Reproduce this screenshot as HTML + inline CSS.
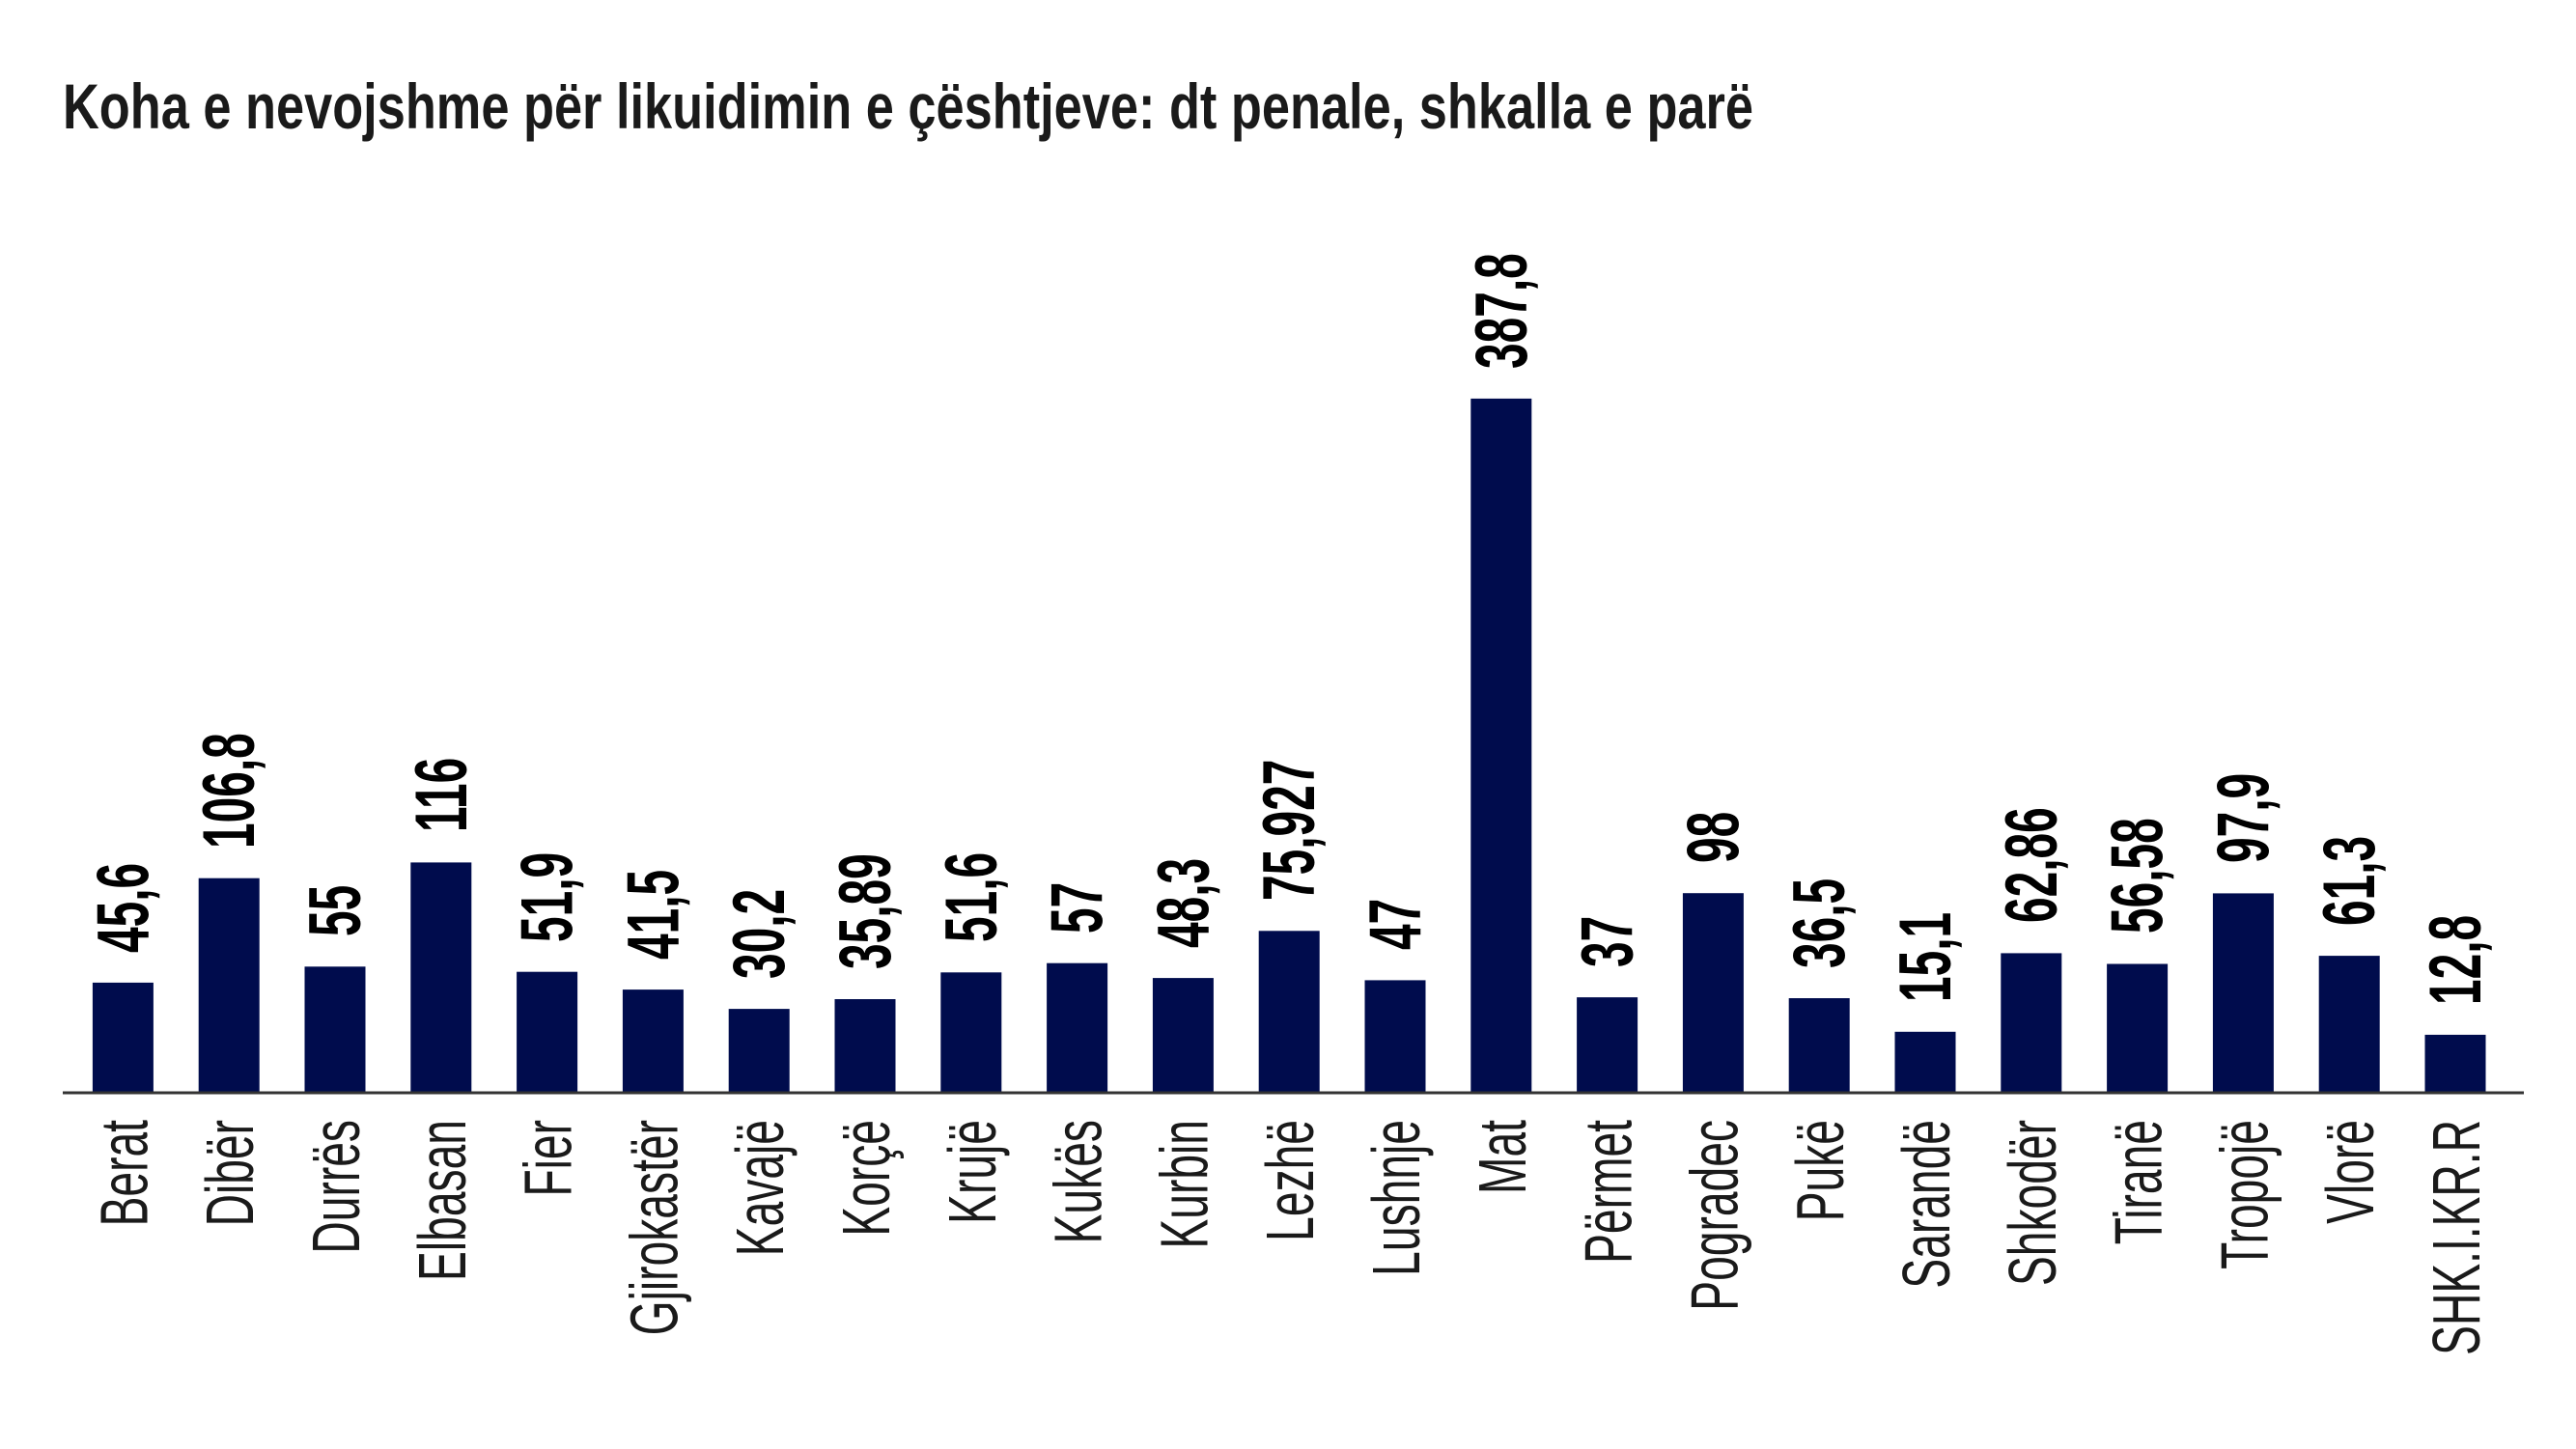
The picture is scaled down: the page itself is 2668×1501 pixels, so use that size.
<!DOCTYPE html>
<html><head><meta charset="utf-8"><style>html,body{margin:0;padding:0;background:#fff}svg{display:block}</style></head>
<body>
<svg width="2668" height="1501" viewBox="0 0 2668 1501" xmlns="http://www.w3.org/2000/svg" font-family="'Liberation Sans', sans-serif">
<rect width="2668" height="1501" fill="#fff"/>
<text x="65" y="133" font-size="66" font-weight="bold" fill="#1a1a1a" textLength="1751" lengthAdjust="spacingAndGlyphs">Koha e nevojshme për likuidimin e çështjeve: dt penale, shkalla e parë</text>
<defs><style>
.b{fill:#000c4d}
.v{font-size:76px;font-weight:bold;fill:#000}
.c{font-size:70px;fill:#1a1a1a;text-anchor:end}
</style></defs>
<g transform="translate(127.4,0)"><rect class="b" x="-31.5" y="1017.9" width="63" height="114.1"/><text class="v" transform="translate(26,987) rotate(-90) scale(0.63,1)">45,6</text><text class="c" transform="translate(25,1160) rotate(-90) scale(0.66,1)">Berat</text></g>
<g transform="translate(237.2,0)"><rect class="b" x="-31.5" y="909.7" width="63" height="222.3"/><text class="v" transform="translate(26,879) rotate(-90) scale(0.63,1)">106,8</text><text class="c" transform="translate(25,1160) rotate(-90) scale(0.66,1)">Dibër</text></g>
<g transform="translate(347.0,0)"><rect class="b" x="-31.5" y="1001.3" width="63" height="130.7"/><text class="v" transform="translate(26,970) rotate(-90) scale(0.63,1)">55</text><text class="c" transform="translate(25,1160) rotate(-90) scale(0.66,1)">Durrës</text></g>
<g transform="translate(456.8,0)"><rect class="b" x="-31.5" y="893.4" width="63" height="238.6"/><text class="v" transform="translate(26,862) rotate(-90) scale(0.63,1)">116</text><text class="c" transform="translate(25,1160) rotate(-90) scale(0.66,1)">Elbasan</text></g>
<g transform="translate(566.6,0)"><rect class="b" x="-31.5" y="1006.7" width="63" height="125.3"/><text class="v" transform="translate(26,976) rotate(-90) scale(0.63,1)">51,9</text><text class="c" transform="translate(25,1160) rotate(-90) scale(0.66,1)">Fier</text></g>
<g transform="translate(676.4,0)"><rect class="b" x="-31.5" y="1025.1" width="63" height="106.9"/><text class="v" transform="translate(26,994) rotate(-90) scale(0.63,1)">41,5</text><text class="c" transform="translate(25,1160) rotate(-90) scale(0.66,1)">Gjirokastër</text></g>
<g transform="translate(786.2,0)"><rect class="b" x="-31.5" y="1045.1" width="63" height="86.9"/><text class="v" transform="translate(26,1014) rotate(-90) scale(0.63,1)">30,2</text><text class="c" transform="translate(25,1160) rotate(-90) scale(0.66,1)">Kavajë</text></g>
<g transform="translate(896.0,0)"><rect class="b" x="-31.5" y="1035.0" width="63" height="97.0"/><text class="v" transform="translate(26,1004) rotate(-90) scale(0.63,1)">35,89</text><text class="c" transform="translate(25,1160) rotate(-90) scale(0.66,1)">Korçë</text></g>
<g transform="translate(1005.8,0)"><rect class="b" x="-31.5" y="1007.3" width="63" height="124.7"/><text class="v" transform="translate(26,976) rotate(-90) scale(0.63,1)">51,6</text><text class="c" transform="translate(25,1160) rotate(-90) scale(0.66,1)">Krujë</text></g>
<g transform="translate(1115.6,0)"><rect class="b" x="-31.5" y="997.7" width="63" height="134.3"/><text class="v" transform="translate(26,967) rotate(-90) scale(0.63,1)">57</text><text class="c" transform="translate(25,1160) rotate(-90) scale(0.66,1)">Kukës</text></g>
<g transform="translate(1225.4,0)"><rect class="b" x="-31.5" y="1013.1" width="63" height="118.9"/><text class="v" transform="translate(26,982) rotate(-90) scale(0.63,1)">48,3</text><text class="c" transform="translate(25,1160) rotate(-90) scale(0.66,1)">Kurbin</text></g>
<g transform="translate(1335.2,0)"><rect class="b" x="-31.5" y="964.3" width="63" height="167.7"/><text class="v" transform="translate(26,933) rotate(-90) scale(0.63,1)">75,927</text><text class="c" transform="translate(25,1160) rotate(-90) scale(0.66,1)">Lezhë</text></g>
<g transform="translate(1445.0,0)"><rect class="b" x="-31.5" y="1015.4" width="63" height="116.6"/><text class="v" transform="translate(26,984) rotate(-90) scale(0.63,1)">47</text><text class="c" transform="translate(25,1160) rotate(-90) scale(0.66,1)">Lushnje</text></g>
<g transform="translate(1554.8,0)"><rect class="b" x="-31.5" y="412.9" width="63" height="719.1"/><text class="v" transform="translate(26,382) rotate(-90) scale(0.63,1)">387,8</text><text class="c" transform="translate(25,1160) rotate(-90) scale(0.66,1)">Mat</text></g>
<g transform="translate(1664.6,0)"><rect class="b" x="-31.5" y="1033.1" width="63" height="98.9"/><text class="v" transform="translate(26,1002) rotate(-90) scale(0.63,1)">37</text><text class="c" transform="translate(25,1160) rotate(-90) scale(0.66,1)">Përmet</text></g>
<g transform="translate(1774.4,0)"><rect class="b" x="-31.5" y="925.2" width="63" height="206.8"/><text class="v" transform="translate(26,894) rotate(-90) scale(0.63,1)">98</text><text class="c" transform="translate(25,1160) rotate(-90) scale(0.66,1)">Pogradec</text></g>
<g transform="translate(1884.2,0)"><rect class="b" x="-31.5" y="1034.0" width="63" height="98.0"/><text class="v" transform="translate(26,1003) rotate(-90) scale(0.63,1)">36,5</text><text class="c" transform="translate(25,1160) rotate(-90) scale(0.66,1)">Pukë</text></g>
<g transform="translate(1994.0,0)"><rect class="b" x="-31.5" y="1068.8" width="63" height="63.2"/><text class="v" transform="translate(26,1038) rotate(-90) scale(0.63,1)">15,1</text><text class="c" transform="translate(25,1160) rotate(-90) scale(0.66,1)">Sarandë</text></g>
<g transform="translate(2103.8,0)"><rect class="b" x="-31.5" y="987.4" width="63" height="144.6"/><text class="v" transform="translate(26,956) rotate(-90) scale(0.63,1)">62,86</text><text class="c" transform="translate(25,1160) rotate(-90) scale(0.66,1)">Shkodër</text></g>
<g transform="translate(2213.6,0)"><rect class="b" x="-31.5" y="998.5" width="63" height="133.5"/><text class="v" transform="translate(26,967) rotate(-90) scale(0.63,1)">56,58</text><text class="c" transform="translate(25,1160) rotate(-90) scale(0.66,1)">Tiranë</text></g>
<g transform="translate(2323.4,0)"><rect class="b" x="-31.5" y="925.4" width="63" height="206.6"/><text class="v" transform="translate(26,894) rotate(-90) scale(0.63,1)">97,9</text><text class="c" transform="translate(25,1160) rotate(-90) scale(0.66,1)">Tropojë</text></g>
<g transform="translate(2433.2,0)"><rect class="b" x="-31.5" y="990.1" width="63" height="141.9"/><text class="v" transform="translate(26,959) rotate(-90) scale(0.63,1)">61,3</text><text class="c" transform="translate(25,1160) rotate(-90) scale(0.66,1)">Vlorë</text></g>
<g transform="translate(2543.0,0)"><rect class="b" x="-31.5" y="1071.9" width="63" height="60.1"/><text class="v" transform="translate(26,1041) rotate(-90) scale(0.63,1)">12,8</text><text class="c" transform="translate(25,1160) rotate(-90) scale(0.66,1)">SHK.I.KR.R</text></g>
<line x1="65" y1="1132" x2="2614" y2="1132" stroke="#333" stroke-width="3"/>
</svg>
</body></html>
